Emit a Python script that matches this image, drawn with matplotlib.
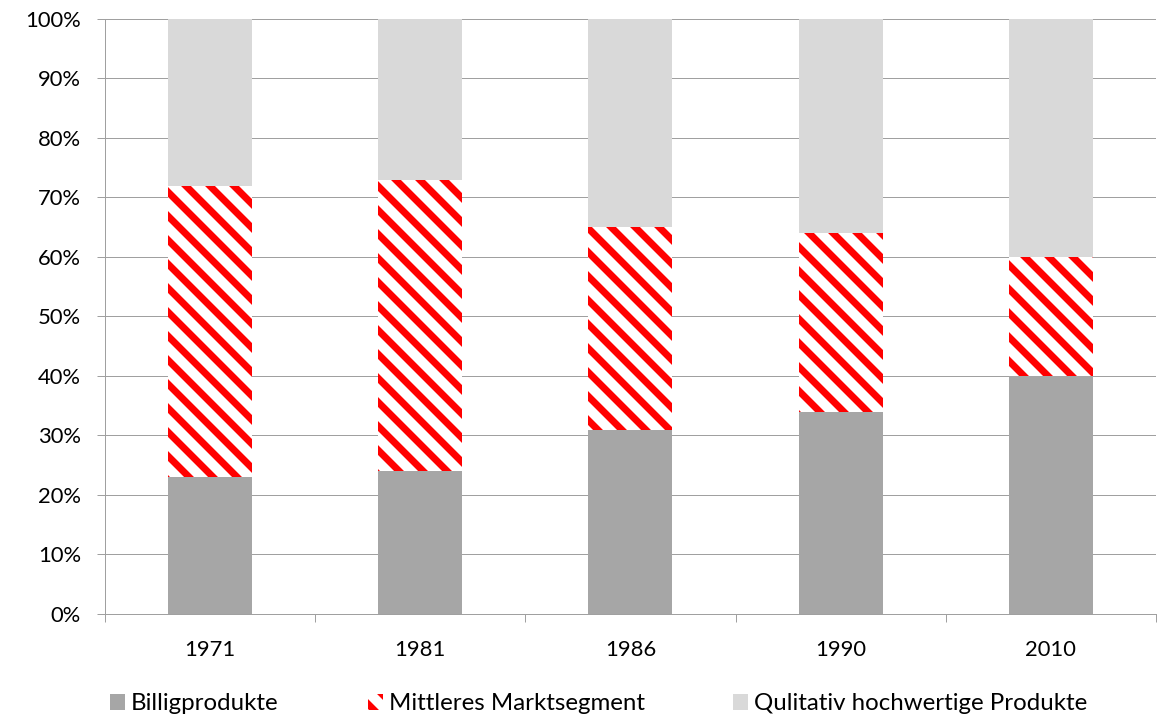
import numpy as np
import matplotlib
matplotlib.use("Agg")
import matplotlib.pyplot as plt
from matplotlib.ticker import PercentFormatter, FixedLocator

plt.rcParams['font.family'] = ['Lato', 'DejaVu Sans']
plt.rcParams['hatch.linewidth'] = 7.0

# Anteile der Marktsegmente je Jahr (in %)
jahre = ['1971', '1981', '1986', '1990', '2010']
billig = [23, 24, 31, 34, 40]
mittel = [49, 49, 34, 30, 20]
hochwertig = [28, 27, 35, 36, 40]

DPI = 72
fig = plt.figure(figsize=(1166 / DPI, 717 / DPI), dpi=DPI)
ax = fig.add_axes([0.09, 0.1437, 0.9014, 0.8298])

x = np.arange(len(jahre))
w = 0.4
ax.bar(x, billig, w, color='#a6a6a6', label='Billigprodukte', zorder=2)
ax.bar(x, mittel, w, bottom=billig, color='white', edgecolor='red',
       hatch='\\', linewidth=0, label='Mittleres Marktsegment', zorder=2)
ax.bar(x, hochwertig, w, bottom=np.add(billig, mittel), color='#d9d9d9',
       label='Qulitativ hochwertige Produkte', zorder=2)

ax.set_ylim(0, 100)
ax.set_xlim(-0.5, len(jahre) - 0.5)
ax.set_yticks(np.arange(0, 101, 10))
ax.yaxis.set_major_formatter(PercentFormatter(decimals=0))
ax.yaxis.grid(True, color='#a0a0a0', linewidth=1.0, zorder=0)
ax.set_axisbelow(True)

ax.set_xticks(x)
ax.set_xticklabels(jahre)
ax.xaxis.set_minor_locator(FixedLocator(np.arange(-0.5, len(jahre), 1)))
ax.tick_params(axis='x', which='major', length=0, pad=26, labelsize=22)
ax.tick_params(axis='x', which='minor', length=8, width=1, color='#a0a0a0', direction='out')
ax.tick_params(axis='y', length=8, width=1, color='#a0a0a0', labelsize=22, pad=16)

for s in ['top', 'right']:
    ax.spines[s].set_visible(False)
for s in ['left', 'bottom']:
    ax.spines[s].set_color('#a0a0a0')
    ax.spines[s].set_linewidth(1.0)

ax.legend(loc='lower center', bbox_to_anchor=(0.47, -0.205), ncol=3, frameon=False,
          fontsize=24, handlelength=0.62, handleheight=0.62, handletextpad=0.25,
          columnspacing=3.7)

fig.savefig('out.png', dpi=DPI)
